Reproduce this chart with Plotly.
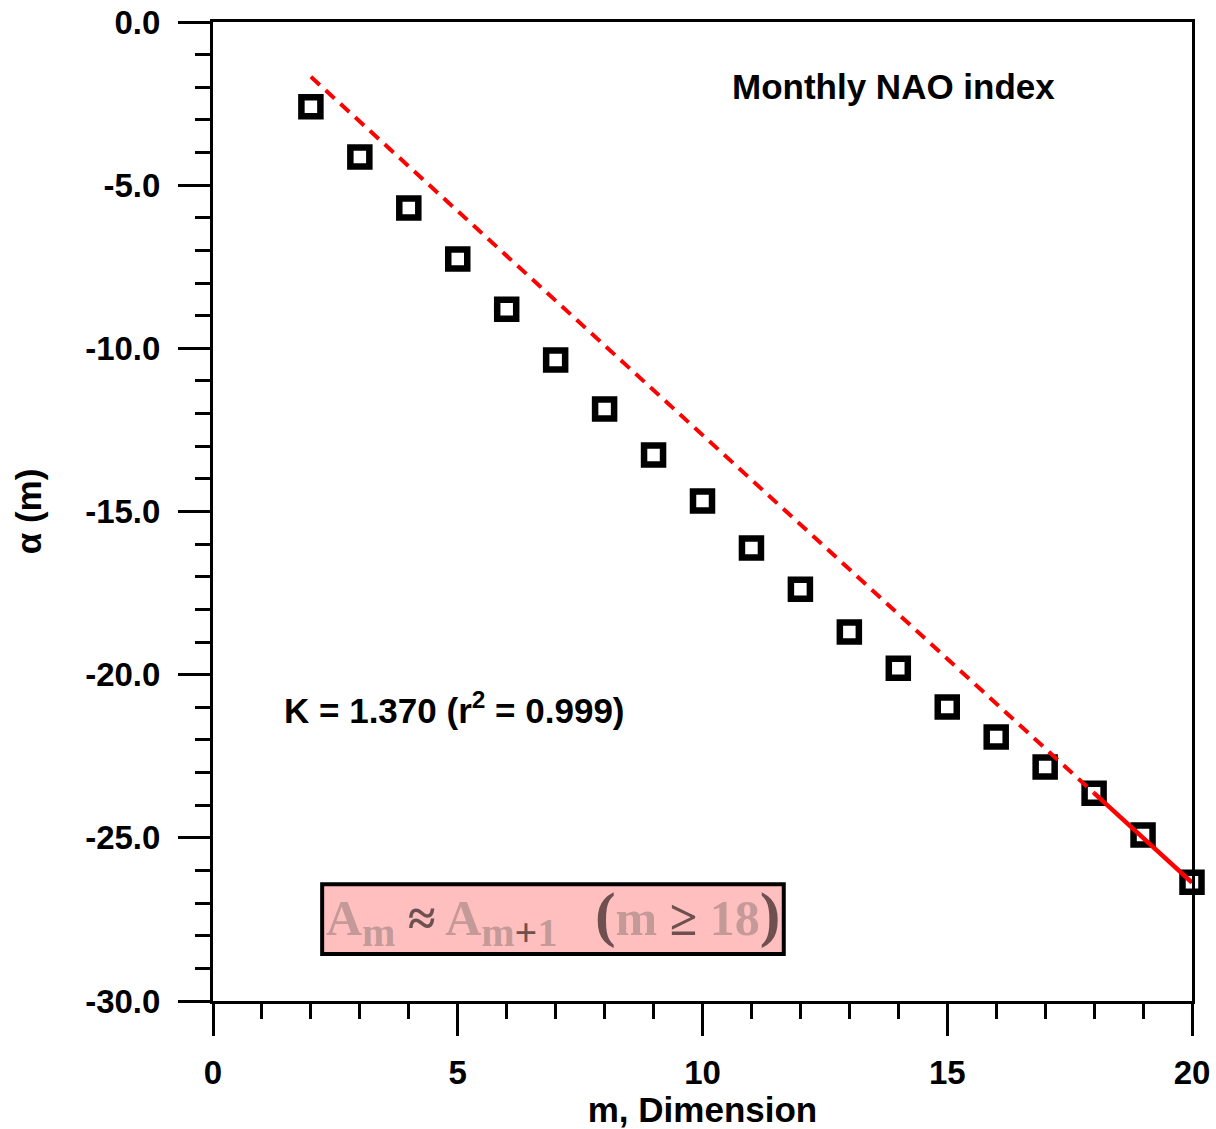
import plotly.graph_objects as go

# ---- data ----
m_vals = [2, 3, 4, 5, 6, 7, 8, 9, 10, 11, 12, 13, 14, 15, 16, 17, 18, 19, 20]
alpha_vals = [-2.60, -4.14, -5.70, -7.26, -8.80, -10.36, -11.86, -13.27, -14.68,
              -16.12, -17.38, -18.69, -19.80, -20.99, -21.91, -22.83, -23.63,
              -24.91, -26.36]
fit_dash_x = [2, 18]
fit_dash_y = [-1.68, -23.63]
fit_solid_x = [18, 20]
fit_solid_y = [-23.63, -26.37]

x_tick_vals = [0, 5, 10, 15, 20]
x_tick_text = ["0", "5", "10", "15", "20"]
y_tick_vals = [0, -5, -10, -15, -20, -25, -30]
y_tick_text = ["0.0", "-5.0", "-10.0", "-15.0", "-20.0", "-25.0", "-30.0"]

FONT = "Liberation Sans, Arial, sans-serif"
SERIF = "Liberation Serif, Times New Roman, serif"

fig = go.Figure()
fig.add_trace(go.Scatter(
    x=m_vals, y=alpha_vals, mode="markers",
    marker=dict(symbol="square-open", size=19, color="black",
                line=dict(width=6.5, color="black")),
    cliponaxis=False, showlegend=False))
fig.add_trace(go.Scatter(
    x=fit_dash_x, y=fit_dash_y, mode="lines",
    line=dict(color="#ff0000", width=4, dash="12px,8px"),
    showlegend=False))
fig.add_trace(go.Scatter(
    x=fit_solid_x, y=fit_solid_y, mode="lines",
    line=dict(color="#ff0000", width=4.5),
    cliponaxis=False, showlegend=False))

axis_common = dict(
    showline=True, linecolor="black", linewidth=3, mirror=True,
    showgrid=False, zeroline=False, ticks="outside", ticklen=32, tickwidth=3,
    tickcolor="black", tickmode="array", automargin=False,
    tickfont=dict(family=FONT, size=33, color="black", weight="bold"),
)

fig.update_layout(
    width=1216, height=1129,
    margin=dict(l=213, r=24, t=22, b=128),
    paper_bgcolor="white", plot_bgcolor="white",
    xaxis=dict(range=[0, 20], tickvals=x_tick_vals, ticktext=x_tick_text,
               ticklabelstandoff=8,
               minor=dict(dtick=1, tick0=0, ticklen=15, tickwidth=3,
                          tickcolor="black", ticks="outside"),
               title=dict(text="<b>m, Dimension</b>", standoff=6,
                          font=dict(family=FONT, size=35, color="black")),
               **axis_common),
    yaxis=dict(range=[-30, 0], tickvals=y_tick_vals, ticktext=y_tick_text,
               ticklabelstandoff=11,
               minor=dict(dtick=1, tick0=0, ticklen=15, tickwidth=3,
                          tickcolor="black", ticks="outside"),
               title=dict(text="<b>α (m)</b>", standoff=33,
                          font=dict(family=FONT, size=35, color="black")),
               **axis_common),
    annotations=[
        dict(x=13.91, y=-1.99, xref="x", yref="y", text="<b>Monthly NAO index</b>",
             showarrow=False, xanchor="center", yanchor="middle",
             font=dict(family=FONT, size=35, color="black")),
        dict(x=1.41, y=-21.02, xref="x", yref="y",
             text="<b>K = 1.370 (r<sup>2</sup> = 0.999)</b>",
             showarrow=False, xanchor="left", yanchor="middle",
             font=dict(family=FONT, size=35, color="black")),
        dict(x=6.95, y=-27.45, xref="x", yref="y",
             text=("<b>A<sub><span style='font-size:40px'>m</span></sub> "
                   "<span style='color:#6e5050'>≈</span> "
                   "A<sub><span style='font-size:40px'>m<span style='color:#6e5050'>+</span>1</span></sub>"
                   "   <span style='font-size:62px;color:#6e5050'>(</span>m "
                   "<span style='color:#6e5050'>≥</span> 18"
                   "<span style='font-size:62px;color:#6e5050'>)</span></b>"),
             showarrow=False, xanchor="center", yanchor="middle",
             font=dict(family=SERIF, size=50, color="#c49a99")),
    ],
    shapes=[
        dict(type="rect", xref="x", yref="y", x0=2.23, x1=11.66, y0=-26.42, y1=-28.56,
             fillcolor="#ffbfbf", line=dict(color="black", width=4), layer="below"),
    ],
)

fig.write_html("out.html")
